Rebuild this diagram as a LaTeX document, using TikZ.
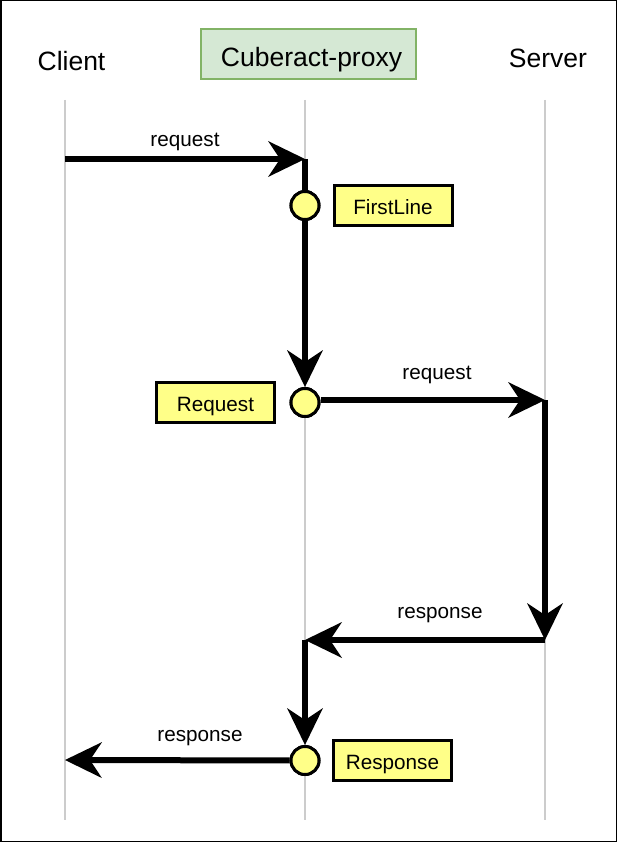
\documentclass[tikz,border=0pt]{standalone}
\usepackage{fontspec}
\setmainfont{Liberation Sans}
\usetikzlibrary{arrows.meta}
\definecolor{boxyellow}{HTML}{FFFF88}
\definecolor{hdrgreen}{HTML}{D5E8D4}
\definecolor{hdrgreenline}{HTML}{82B366}
\definecolor{lifegray}{HTML}{CCCCCC}
\begin{document}
\begin{tikzpicture}[x=1pt,y=-1pt,
  lifeline/.style={draw=lifegray,line width=2.5pt},
  msg/.style={line width=6pt,-{Stealth[length=37pt,width=36pt,inset=12pt,line width=0pt]}},
  bar/.style={line width=6pt},
  hdr/.style={font=\fontsize{26.5}{30}\selectfont,inner sep=0pt},
  lbl/.style={font=\fontsize{20.7}{24}\selectfont,inner sep=0pt},
  point/.style={circle,draw=black,fill=boxyellow,line width=3pt,minimum size=28pt,inner sep=0pt},
  note/.style={draw=black,fill=boxyellow,line width=3pt,minimum width=118pt,minimum height=40pt,inner sep=0pt,text height=18pt,text depth=0pt,font=\fontsize{20.7}{24}\selectfont}]
\useasboundingbox (0,0) rectangle (617,842);
\draw[line width=1.5pt] (0.75,0.75) rectangle (616.25,841.25);

% lifelines
\coordinate (clT) at (65,100);  \coordinate (clB) at (65,820);
\coordinate (prT) at (305,100); \coordinate (prB) at (305,820);
\coordinate (svT) at (545,100); \coordinate (svB) at (545,820);
\draw[lifeline] (clT) -- (clB);
\draw[lifeline] (prT) -- (prB);
\draw[lifeline] (svT) -- (svB);

% headers
\node[hdr] (client) at (71.5,61) {Client};
\node[hdr] (server) at (548,58) {Server};
\node[draw=hdrgreenline,fill=hdrgreen,line width=2.5pt,minimum width=215pt,minimum height=50pt,inner sep=0pt] (proxybox) at (308.5,54) {};
\node[hdr] (proxy) at (311.5,59.5) {Cuberact-proxy};

% points and notes
\node[point] (c1) at (305,205.5) {};
\node[point] (c2) at (305,402.5) {};
\node[point] (c3) at (305,760.5) {};
\node[note] (firstline) at (393,205.5) {FirstLine};
\node[note] (request) at (215.5,402.5) {Request};
\node[note] (response) at (392.5,760.5) {Response};

% corner coordinates
\coordinate (cl1) at (65,159);
\coordinate (p1) at (305,159);
\coordinate (p2) at (545,400);
\coordinate (p3) at (545,640);
\coordinate (p4) at (305,640);
\coordinate (cl2) at (65,760);

% messages
\draw[msg] (cl1) -- (p1);
\draw[bar] (p1) -- (c1);
\draw[msg] (c1) -- (c2);
\draw[msg] (c2.east |- p2) -- (p2);
\draw[msg] (p2) -- (p3);
\draw[msg] (p3) -- (p4);
\draw[msg] (p4) -- (c3);
\draw[msg] (c3) -- (cl2);

% redraw points on top
\node[point] at (c1) {};
\node[point] at (c2) {};
\node[point] at (c3) {};

% labels
\node[lbl] (l1) at (185,141.5) {request};
\node[lbl] (l2) at (437,374.5) {request};
\node[lbl] (l3) at (440,615.5) {response};
\node[lbl] (l4) at (200,738.5) {response};
\end{tikzpicture}
\end{document}
